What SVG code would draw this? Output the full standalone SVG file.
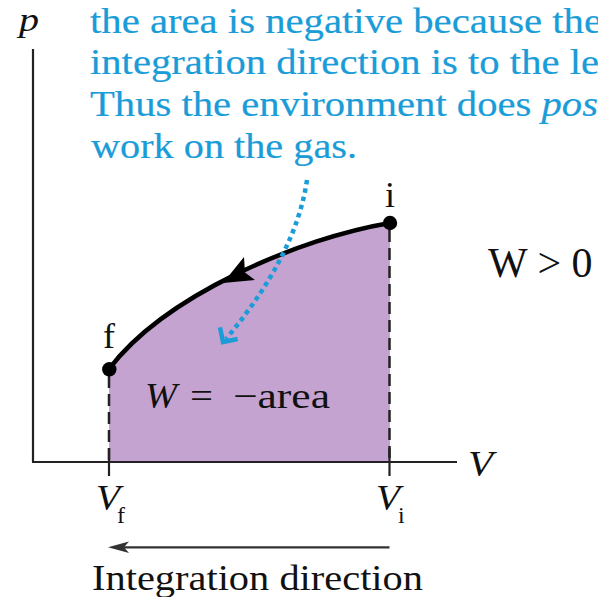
<svg xmlns="http://www.w3.org/2000/svg" width="598" height="597" viewBox="0 0 598 597">
  <style>
    .blue { font-family: "Liberation Serif", "Times New Roman", serif; font-size: 36px; fill: #1a9cd8; stroke: #1a9cd8; stroke-width: 0.2; }
    .lbl { font-family: "Liberation Serif", "Times New Roman", serif; font-size: 36px; fill: #111; }
    .it { font-style: italic; }
    .axis { stroke: #222; stroke-width: 2.2; fill: none; }
    .dash { stroke: #222; stroke-width: 2.5; stroke-dasharray: 12 6; fill: none; }
  </style>
  <rect width="598" height="597" fill="#ffffff"/>

  <!-- shaded area -->
  <g id="area">
    <path d="M390,223 C300,238 165,295 109,369 L109,462 L390,462 Z" fill="#c4a3d0"/>
    <line class="dash" x1="109" y1="376" x2="109" y2="462"/>
    <line class="dash" x1="389.5" y1="230" x2="389.5" y2="462"/>
  </g>

  <!-- axes -->
  <g id="axes">
    <line class="axis" x1="33" y1="49" x2="33" y2="462"/>
    <line class="axis" x1="32" y1="462" x2="457" y2="462"/>
    <line class="axis" x1="109" y1="448" x2="109" y2="476"/>
    <line class="axis" x1="389.5" y1="448" x2="389.5" y2="476"/>
    <text class="lbl it" style="font-size:33px" x="19" y="31" textLength="20" lengthAdjust="spacingAndGlyphs">p</text>
    <text class="lbl it" x="468" y="476" textLength="25" lengthAdjust="spacingAndGlyphs">V</text>
  </g>

  <g id="tick-Vf">
    <text class="lbl it" x="96" y="510" textLength="24" lengthAdjust="spacingAndGlyphs">V</text>
    <text class="lbl" style="font-size:24px" x="117" y="523">f</text>
  </g>
  <g id="tick-Vi">
    <text class="lbl it" x="376" y="510" textLength="24" lengthAdjust="spacingAndGlyphs">V</text>
    <text class="lbl" style="font-size:24px" x="398" y="523">i</text>
  </g>

  <!-- connectors -->
  <g id="connectors">
    <path d="M390,223 C300,238 165,295 109,369" fill="none" stroke="#000" stroke-width="4.5"/>
    <path d="M223,283 L255,280 L245,272.5 L244,257 Z" fill="#000"/>
    <path d="M307,180 Q296,255 226,339" fill="none" stroke="#1a9cd8" stroke-width="4.5" stroke-dasharray="4.5 4"/>
    <path d="M237.6,339 L223,342 L220,327.4" fill="none" stroke="#1a9cd8" stroke-width="4.5" stroke-linejoin="miter"/>
    <line x1="389.5" y1="547.3" x2="122" y2="547.3" stroke="#333" stroke-width="2.2"/>
    <path d="M108,547.3 L129,541.5 L124,547.3 L129,553.1 Z" fill="#333"/>
  </g>

  <!-- states -->
  <g id="state-i">
    <circle cx="390" cy="223" r="7.2" fill="#000"/>
    <text class="lbl" x="390" y="207" text-anchor="middle">i</text>
  </g>
  <g id="state-f">
    <circle cx="109.3" cy="369.3" r="7.2" fill="#000"/>
    <text class="lbl" x="109" y="348" text-anchor="middle">f</text>
  </g>

  <g id="area-label">
    <text class="lbl it" x="145" y="408" textLength="32" lengthAdjust="spacingAndGlyphs">W</text>
    <text class="lbl" x="190" y="408" textLength="23" lengthAdjust="spacingAndGlyphs">=</text>
    <text class="lbl" x="233" y="408" textLength="97" lengthAdjust="spacingAndGlyphs">−area</text>
  </g>

  <g id="w-positive">
    <text class="lbl" style="font-size:42px" x="488" y="277">W &gt; 0</text>
  </g>

  <g id="note">
    <text class="blue" x="90" y="33" textLength="512" lengthAdjust="spacingAndGlyphs">the area is negative because the</text>
    <text class="blue" x="90" y="74" textLength="509" lengthAdjust="spacingAndGlyphs">integration direction is to the le</text>
    <text class="blue" x="90" y="116" textLength="508" lengthAdjust="spacingAndGlyphs">Thus the environment does <tspan class="it">pos</tspan></text>
    <text class="blue" x="91" y="158" textLength="266" lengthAdjust="spacingAndGlyphs">work on the gas.</text>
  </g>

  <g id="direction-label">
    <text class="lbl" x="92" y="590" textLength="331" lengthAdjust="spacingAndGlyphs">Integration direction</text>
  </g>
</svg>
